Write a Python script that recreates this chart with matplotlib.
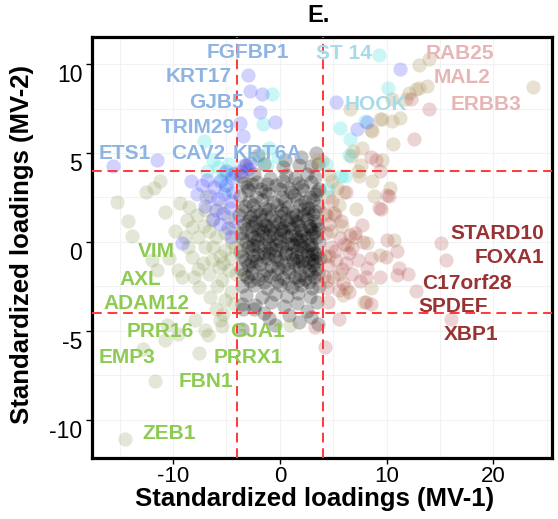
import numpy as np
import matplotlib
matplotlib.use('Agg')
import matplotlib.pyplot as plt

plt.rcParams['font.family'] = ['Liberation Sans', 'DejaVu Sans']
plt.rcParams['axes.unicode_minus'] = False

# ---------------- data ----------------
black_pts = [
    (-3.2,4.3),(-1.5,4.4),(0.3,4.2),(1.8,4.35),(2.9,4.25),(3.6,4.4),
    (-3.6,3.7),(-2.4,3.8),(-0.9,3.6),(0.6,3.75),(1.4,3.6),(2.5,3.8),(3.3,3.65),
    (-3.1,3.1),(-2.6,3.25),(-1.8,3.0),(-0.4,3.2),(0.9,3.05),(2.1,3.15),(3.7,3.0),
    (-3.7,2.6),(-2.2,2.5),(-1.1,2.7),(0.2,2.55),(1.3,2.65),(2.8,2.5),(3.4,2.7),
    (-3.3,2.0),(-2.5,2.1),(-1.4,1.9),(-0.3,2.05),(0.7,1.95),(1.9,2.1),(2.6,1.9),(3.6,2.0),
    (-3.8,1.5),(-2.8,1.4),(-1.9,1.55),(-0.8,1.45),(0.4,1.6),(1.1,1.4),(2.2,1.5),(3.1,1.55),
    (-3.4,1.0),(-2.3,1.1),(-1.2,0.9),(-0.1,1.05),(0.9,0.95),(1.7,1.1),(2.7,0.9),(3.5,1.0),
    (-3.6,0.5),(-2.7,0.4),(-1.6,0.55),(-0.6,0.45),(0.3,0.6),(1.4,0.4),(2.3,0.5),(3.2,0.55),
    (-3.2,0.0),(-2.1,0.1),(-1.0,-0.1),(0.0,0.05),(1.0,-0.05),(1.9,0.1),(2.9,-0.1),(3.7,0.0),
    (-3.7,-0.5),(-2.6,-0.4),(-1.5,-0.6),(-0.4,-0.45),(0.6,-0.55),(1.6,-0.4),(2.5,-0.5),(3.3,-0.6),
    (-3.3,-1.0),(-2.2,-1.1),(-1.1,-0.9),(0.1,-1.05),(1.2,-0.95),(2.1,-1.1),(3.0,-1.0),(3.8,-0.9),
    (-3.6,-1.5),(-2.5,-1.4),(-1.3,-1.6),(-0.2,-1.45),(0.8,-1.55),(1.8,-1.4),(2.7,-1.6),(3.4,-1.5),
    (-3.1,-2.0),(-2.0,-2.1),(-0.9,-1.9),(0.3,-2.05),(1.4,-1.95),(2.4,-2.1),(3.2,-2.0),
    (-3.5,-2.5),(-2.4,-2.4),(-1.2,-2.6),(0.0,-2.45),(1.1,-2.55),(2.0,-2.4),(3.0,-2.6),(3.7,-2.5),
    (-3.2,-3.0),(-1.7,-3.1),(-0.5,-2.95),(0.7,-3.05),(1.7,-2.9),(2.8,-3.1),
    (-3.5,-3.5),(-2.3,-3.56),(-0.8,-3.4),(0.4,-3.6),(1.6,-3.45),(3.5,-3.4),
    (-1.5,-4.0),(0.9,-4.1),(2.5,-3.9),
    (-3.4,3.3),(-2.1,3.35),(-1.2,3.25),(0.3,3.4),(1.7,3.3),(2.9,3.35),
    (-3.0,2.9),(-1.4,2.85),(0.0,2.95),(1.0,2.8),(2.2,2.9),(3.5,2.85),
    (-2.9,2.3),(-1.7,2.35),(-0.6,2.25),(0.5,2.3),(1.6,2.4),(2.4,2.25),(3.1,2.35),
    (-3.5,1.8),(-2.2,1.75),(-1.0,1.85),(0.1,1.8),(1.2,1.7),(2.3,1.85),(3.3,1.75),
    (-3.0,1.2),(-1.7,1.25),(-0.5,1.15),(0.6,1.25),(1.5,1.2),(2.5,1.3),(3.3,1.15),
    (-3.2,0.7),(-2.0,0.75),(-0.9,0.65),(0.1,0.7),(1.1,0.8),(2.0,0.65),(2.9,0.7),(3.6,0.75),
    (-3.5,0.2),(-2.4,0.25),(-1.3,0.15),(-0.3,0.2),(0.7,0.3),(1.6,0.15),(2.5,0.2),(3.4,0.25),
    (-3.0,-0.3),(-2.0,-0.25),(-0.8,-0.35),(0.2,-0.3),(1.3,-0.2),(2.2,-0.3),(3.0,-0.35),
    (-3.5,-0.8),(-2.5,-0.75),(-1.5,-0.85),(-0.5,-0.8),(0.5,-0.7),(1.5,-0.85),(2.6,-0.8),(3.5,-0.75),
    (-3.0,-1.3),(-1.9,-1.25),(-0.8,-1.35),(0.4,-1.3),(1.3,-1.2),(2.3,-1.35),(3.1,-1.3),
    (-3.4,-1.8),(-2.6,-1.75),(-1.6,-1.85),(-0.4,-1.8),(0.9,-1.7),(1.9,-1.85),(2.9,-1.8),(3.6,-1.75),
    (-2.8,-2.2),(-1.5,-2.25),(-0.3,-2.2),(0.8,-2.3),(1.8,-2.15),(2.7,-2.25),
    (-2.5,1.5),(-1.3,1.55),(0.0,1.45),(1.5,1.5),(2.6,1.6),
    (-2.6,0.9),(-1.9,0.85),(-1.4,0.95),(-0.7,0.9),(0.4,0.85),(1.7,0.95),(2.8,0.9),
    (-2.0,0.4),(-1.0,0.35),(0.0,0.45),(1.0,0.4),(2.0,0.35),(3.0,0.4),
    (-2.5,-0.2),(-1.5,-0.15),(-0.4,-0.2),(0.8,-0.1),(1.9,-0.2),(2.7,-0.15),
    (-2.0,-0.7),(-1.0,-0.65),(1.0,-0.7),(2.0,-0.65),(3.0,-0.7),
    (1.7,-1.1),(2.6,-1.15),(3.3,-1.05),(-2.7,-1.1),(-0.3,-1.0),
    (-2.46,-3.8),(-3.46,-3.8),(-1.0,-4.3),(1.8,-4.5),(3.6,-4.6),(-3.5,-4.9),
    (0.5,4.6),(2.0,4.8),(3.4,5.0),(-2.0,4.9),(-0.5,-4.7),(2.9,-4.2),
]

olive_pts = [
    (-11.2,3.4),(-11.8,3.03),(-15.3,2.27),(-14.2,1.18),(-13.85,0.33),(-9.4,2.18),
    (-8.5,1.99),(-8.7,1.24),(-8.2,0.86),(-7.65,0.29),(-6.97,-0.27),(-8.6,-0.27),
    (-8.2,-0.84),(-9.5,-1.59),(-9.15,-1.97),(-12.0,-1.02),(-11.5,-1.59),(-7.6,-2.53),
    (-6.65,-1.78),(-6.34,-1.02),(-5.7,-1.4),(-5.4,-2.15),(-5.1,-0.46),(-5.1,0.48),
    (-6.0,0.29),(-6.34,1.24),(-5.7,1.99),(-6.97,1.8),(-4.6,-2.81),(-5.1,-3.28),
    (-6.5,-3.1),(-4.15,-1.78),(-7.93,-4.37),(-10.6,-4.7),(-9.5,-5.16),(-10.75,-5.5),
    (-7.0,-4.98),(-6.7,-5.26),(-5.4,-4.75),(-5.3,-4.03),(0.92,-4.7),(-7.6,-6.26),
    (-12.8,-6.0),(-11.7,-7.8),(-14.5,-11.1),(-5.6,-4.4),
    (-4.6,-0.9),(-4.4,0.8),(-5.6,-0.8),(-6.6,0.6),(-7.2,-1.2),(-4.8,-1.6),(-5.9,-2.5),
    (-7.1,0.9),(-4.3,-3.5),(-6.0,-3.8),(-8.0,-2.0),(-8.9,0.3),(-4.9,1.4),(-4.2,-0.3),
    (-6.3,-0.3),(-7.7,-1.5),(-5.3,-1.2),(-4.5,0.0),(-9.8,0.6),(-10.4,-0.9),(-6.9,2.5),
    (-7.8,1.5),(-10.8,1.7),(-12.5,2.8),
]

tan_pts = [
    (23.7,8.71),(13.0,9.96),(14.0,10.28),(13.8,8.77),(13.0,8.64),(12.1,8.39),(11.8,8.06),
    (10.5,8.02),(6.55,7.45),(11.25,6.98),(10.5,6.79),(9.53,6.93),(8.56,6.27),(10.6,5.53),
    (7.7,5.29),(6.7,4.85),(9.6,4.63),(7.56,4.34),(3.96,4.53),(12.8,8.58),(9.4,6.89),
    (8.6,6.23),(7.4,3.68),(8.66,3.4),(10.3,3.03),(4.58,3.78),(5.37,3.03),(8.8,2.59),
    (7.1,1.84),(5.5,2.08),(8.2,-0.04),(9.4,-0.74),(10.7,0.1),(8.5,-2.62),(7.87,-3.38),
    (6.9,5.1),(7.3,4.0),(4.5,2.5),(5.2,1.5),(4.8,0.6),(5.8,0.9),(6.3,-0.2),(4.6,-0.8),
    (5.5,-1.8),(6.2,-2.6),(4.4,-2.2),(7.0,0.3),(6.0,2.8),(4.9,3.4),(5.9,-3.0),(4.3,1.5),
    (3.5,4.6),
]

red_pts = [
    (6.24,2.78),(10.0,2.65),(9.28,1.9),(4.27,1.62),(5.05,1.62),(7.72,0.95),(6.6,0.39),
    (6.77,-0.36),(10.06,0.11),(11.0,-0.5),(8.5,-0.93),(8.2,-1.49),(9.34,-1.97),
    (11.15,-1.49),(12.0,-1.78),(11.0,-1.87),(15.07,-0.08),(15.54,-1.02),(12.8,-2.77),
    (8.5,-3.47),(5.52,-4.32),(3.33,-4.79),(16.07,-4.32),(4.27,-5.92),(8.03,-3.38),
    (9.5,1.84),(9.9,-0.83),(8.03,-1.97),(12.25,8.02),(14.0,7.45),(12.6,5.8),(9.4,3.97),
    (8.5,4.8),(10.2,2.59),(9.0,4.63),
    (4.3,0.5),(4.8,-0.3),(5.3,-1.0),(5.8,-1.5),(4.5,-1.3),(5.0,-2.0),(6.2,-1.2),
    (6.5,-0.6),(5.6,0.2),(4.4,-2.6),(5.9,-2.3),(6.8,-1.8),(7.3,-1.0),(7.0,0.5),
    (4.6,1.0),(5.2,-0.5),(6.0,-0.1),(4.2,-0.8),(5.5,-2.7),(6.5,-2.8),(7.5,-2.2),
    (4.9,2.3),(5.7,1.2),(7.8,0.0),(4.5,-3.4),(4.1,-1.9),
]

cyan_pts = [
    (-0.73,8.3),(-1.6,6.64),(-7.1,5.66),(-1.0,5.29),(-0.2,4.8),(9.3,10.5),(10.1,8.68),
    (5.6,6.4),(6.6,5.76),(6.46,4.91),(8.0,6.79),(6.15,3.7),(-6.3,4.6),(-5.8,4.2),
    (-5.2,3.9),(-4.8,4.4),(-6.8,4.0),(-4.5,3.8),(-5.5,3.5),(-2.0,4.7),(-1.2,4.3),
    (4.5,3.0),(4.3,4.4),(5.7,3.7),(-5.0,3.0),
]

blue_pts = [
    (-2.99,9.39),(-2.77,8.49),(-1.67,8.34),(-1.9,7.32),(-0.42,6.73),(-3.7,6.7),
    (-3.49,5.94),(-11.53,4.63),(-15.66,4.25),(-3.4,4.3),(-3.0,4.1),(-2.8,4.45),
    (-3.6,4.0),(11.3,9.7),(5.3,7.86),(8.2,6.73),(7.2,6.36),(-8.3,3.4),(-9.2,-0.08),
    (-7.3,3.2),(-6.8,3.5),(-6.2,3.1),(-5.6,3.4),(-5.0,3.2),(-4.5,3.6),(-6.5,2.6),
    (-5.8,2.4),(-5.2,2.7),(-4.6,2.3),(-7.0,2.0),(-6.0,1.8),(-5.3,1.6),(-4.7,1.9),
    (-4.3,1.2),(-5.6,1.0),(-4.9,0.8),(-6.3,1.3),(-4.4,2.8),(-4.2,3.9),(-5.0,4.0),
    (-7.8,2.7),(-4.6,0.3),
]

blue_genes = ['FGFBP1', 'KRT17', 'GJB5', 'TRIM29', 'ETS1', 'CAV2', 'KRT6A']
blue_gx = [-2.96, -7.6, -5.96, -7.7, -14.5, -7.6, -1.2]
blue_gy = [10.65, 9.3, 7.85, 6.45, 4.95, 4.95, 4.95]

cyan_genes = ['ST 14', 'HOOK']
cyan_gx = [6.0, 8.97]
cyan_gy = [10.62, 7.7]

pink_genes = ['RAB25', 'MAL2', 'ERBB3']
pink_gx = [16.85, 17.1, 19.3]
pink_gy = [10.62, 9.24, 7.7]

dred_genes = ['STARD10', 'FOXA1', 'C17orf28', 'SPDEF', 'XBP1']
dred_gx = [20.4, 21.5, 17.5, 16.2, 17.9]
dred_gy = [0.5, -0.85, -2.32, -3.65, -5.2]

green_genes = ['VIM', 'AXL', 'ADAM12', 'PRR16', 'EMP3', 'GJA1', 'PRRX1', 'FBN1', 'ZEB1']
green_gx = [-11.6, -13.1, -12.5, -11.2, -14.3, -2.1, -2.95, -6.95, -10.4]
green_gy = [-0.55, -2.1, -3.45, -5.05, -6.5, -5.05, -6.5, -7.85, -10.75]

x_ticks = [-10, 0, 10, 20]
y_ticks = [-10, -5, 0, 5, 10]
cutoffs = [-4, 4]

# ---------------- figure ----------------
W, H = 558, 519
fig = plt.figure(figsize=(W / 100, H / 100), dpi=100)
ax = fig.add_axes([92 / W, 1 - 458 / H, (552 - 92) / W, (458 - 37) / H])
ax.set_xlim(-17.6, 25.5)
ax.set_ylim(-12.15, 11.52)

for v in np.arange(-15, 26, 5):
    ax.axvline(v, color='#f2f2f2', lw=0.8, zorder=0)
for v in np.arange(-10, 11, 2.5):
    ax.axhline(v, color='#f2f2f2', lw=0.8, zorder=0)

groups = [
    (black_pts, 'black', 0.24),
    (olive_pts, '#7f8f45', 0.21),
    (tan_pts, '#b39e6c', 0.30),
    (red_pts, '#a52a2a', 0.20),
    (cyan_pts, '#33dddd', 0.25),
    (blue_pts, '#3535ff', 0.22),
]
for pts, col, a in groups:
    arr = np.array(pts)
    ax.scatter(arr[:, 0], arr[:, 1], s=105, color=col, alpha=a, linewidths=0, zorder=2)

for v in cutoffs:
    ax.axvline(v, color='#ff3838', lw=1.4, ls=(0, (5, 3)), zorder=3)
    ax.axhline(v, color='#ff3838', lw=1.4, ls=(0, (5, 3)), zorder=3)

label_sets = [
    (blue_genes, blue_gx, blue_gy, '#8db4e3'),
    (cyan_genes, cyan_gx, cyan_gy, '#a8dbe8'),
    (pink_genes, pink_gx, pink_gy, '#e8b5b5'),
    (dred_genes, dred_gx, dred_gy, '#993333'),
    (green_genes, green_gx, green_gy, '#8dcb52'),
]
for genes, gx, gy, col in label_sets:
    for g, xx, yy in zip(genes, gx, gy):
        ax.text(xx, yy, g, color=col, fontsize=15, fontweight='bold',
                ha='center', va='center', zorder=4)

ax.set_xticks(x_ticks)
ax.set_xticklabels([str(t) for t in x_ticks], fontsize=16)
ax.set_yticks(y_ticks)
ax.set_yticklabels([])
for t in y_ticks:
    ax.annotate(str(t), xy=(0, t), xycoords=ax.get_yaxis_transform(),
                xytext=(-7, -8.5), textcoords='offset points',
                ha='right', va='center', fontsize=16.5)
ax.tick_params(axis='both', length=4, width=1, color='black', pad=2)
for sp in ax.spines.values():
    sp.set_linewidth(2.3)
    sp.set_color('black')

fig.text(319 / W, 1 - 16 / H, 'E.', fontsize=17, fontweight='bold', ha='center', va='center')
fig.text(315 / W, 1 - 499 / H, 'Standardized loadings (MV-1)', fontsize=18.5,
         fontweight='bold', ha='center', va='center')
fig.text(22 / W, 1 - 244 / H, 'Standardized loadings (MV-2)', fontsize=18.5,
         fontweight='bold', ha='center', va='center', rotation=90)

fig.savefig('out.png', dpi=100)
